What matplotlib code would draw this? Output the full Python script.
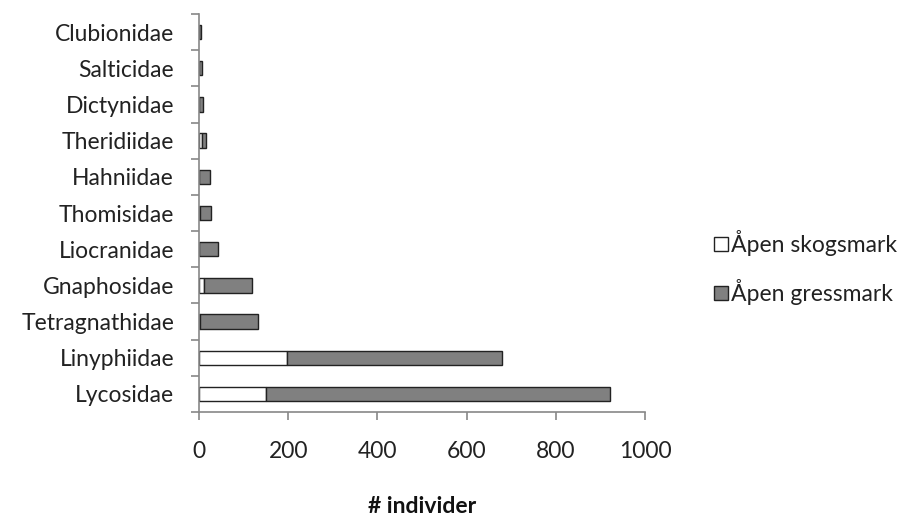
import matplotlib
matplotlib.use("Agg")
import matplotlib.pyplot as plt
import numpy as np

plt.rcParams['font.family'] = ['Lato', 'DejaVu Sans']

families = ["Lycosidae", "Linyphiidae", "Tetragnathidae", "Gnaphosidae", "Liocranidae",
            "Thomisidae", "Hahniidae", "Theridiidae", "Dictynidae", "Salticidae", "Clubionidae"]
skogsmark = [150, 197, 2, 11, 1, 2, 1, 7, 1, 1, 1]
gressmark = [771, 482, 131, 108, 42, 25, 23, 8, 8, 6, 3]
xticks = [0, 200, 400, 600, 800, 1000]

fs = 16.5
fig = plt.figure(figsize=(9.15, 5.17), dpi=100)
ax = fig.add_axes([0.2175, 0.203, 0.4875, 0.77])

y = np.arange(len(families))
ax.barh(y, skogsmark, height=0.4, color="white", edgecolor="#222222", linewidth=1,
        label="Åpen skogsmark")
ax.barh(y, gressmark, left=skogsmark, height=0.4, color="#808080", edgecolor="#222222",
        linewidth=1, label="Åpen gressmark")

ax.set_xlim(0, 1000)
ax.set_ylim(-0.5, len(families) - 0.5)
ax.set_xticks(xticks)
ax.set_xticklabels([str(t) for t in xticks], fontsize=fs, color="#222222")
ax.set_yticks(y)
ax.set_yticklabels(families, fontsize=fs, color="#222222")
ax.set_yticks(np.arange(-0.5, len(families), 1), minor=True)
ax.tick_params(axis="y", which="major", length=0, pad=18)
ax.tick_params(axis="y", which="minor", length=6, color="#888888", width=1.2)
ax.tick_params(axis="x", length=6, color="#888888", width=1.2, pad=15)

for s in ["top", "right"]:
    ax.spines[s].set_visible(False)
for s in ["left", "bottom"]:
    ax.spines[s].set_color("#888888")
    ax.spines[s].set_linewidth(1.2)

ax.set_xlabel("# individer", fontsize=fs, fontweight="bold", labelpad=24, color="#111111")

fig.legend(loc="center left", bbox_to_anchor=(0.758, 0.4826), frameon=False, fontsize=fs,
           handlelength=0.6, handleheight=0.6, handletextpad=0.15, labelspacing=1.0,
           labelcolor="#222222")

fig.savefig("out.png", dpi=100)
